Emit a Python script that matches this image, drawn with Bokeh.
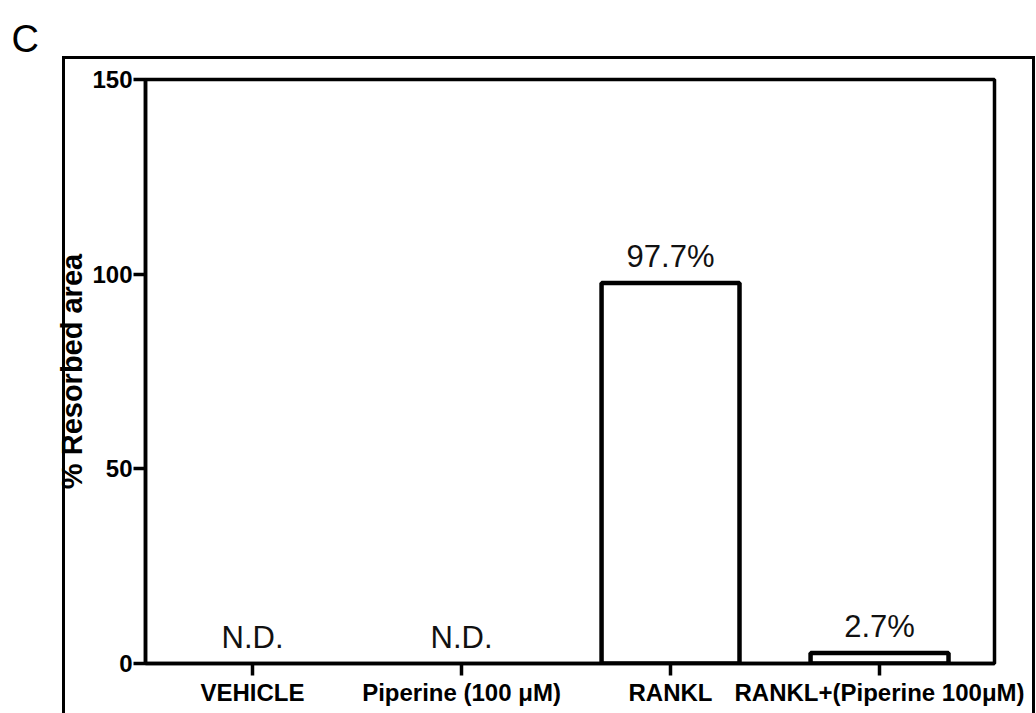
from bokeh.plotting import figure
from bokeh.models import Range1d, FixedTicker, LabelSet, ColumnDataSource
from bokeh.core.properties import value
from bokeh.embed import file_html
from bokeh.resources import INLINE

# ---- data ----
categories = ["VEHICLE", "Piperine (100 \u03bcM)", "RANKL", "RANKL+(Piperine 100\u03bcM)"]
resorbed = [0.0, 0.0, 97.7, 2.7]
bar_labels = ["N.D.", "N.D.", "97.7%", "2.7%"]
y_ticks = [0, 50, 100, 150]
y_label = "% Resorbed area"
panel_letter = "C"

idx = list(range(len(categories)))
bar_x = [i for i, v in zip(idx, resorbed) if v > 0]
bar_top = [v for v in resorbed if v > 0]

p = figure(width=1036, height=713, output_backend="svg", toolbar_location=None,
           x_range=Range1d(-0.512, 3.55), y_range=Range1d(0, 150),
           min_border_left=145, min_border_right=42, min_border_top=78, min_border_bottom=50,
           title=panel_letter)
p.grid.visible = False
p.background_fill_color = None
p.border_fill_color = None
p.outline_line_color = "black"
p.outline_line_width = 3.5

# outer panel frame (decoration) drawn as the host element's background
line = "linear-gradient(#000,#000)"
p.styles = {"background": (
    f"{line} 62px 56px / 3px 800px no-repeat, "
    f"{line} 62px 56px / 973px 3px no-repeat, "
    f"{line} 1032px 56px / 3px 800px no-repeat, #fff")}

src_bars = ColumnDataSource(dict(x=bar_x, top=bar_top))
p.vbar(x="x", top="top", width=0.66, bottom=0, source=src_bars,
       fill_color="white", line_color="black", line_width=4.5)

src_txt = ColumnDataSource(dict(x=idx, y=resorbed, t=bar_labels))
p.add_layout(LabelSet(x="x", y="y", text="t", source=src_txt, text_font=value("Liberation Sans"),
                      text_font_size="31px", text_align="center", text_baseline="alphabetic",
                      y_offset=16, text_color="#111111"))

for ax in (p.xaxis[0], p.yaxis[0]):
    ax.axis_line_width = 3.5
    ax.axis_line_color = "black"
    ax.major_tick_line_width = 3.5
    ax.major_tick_in = 0
    ax.major_tick_out = 12
    ax.minor_tick_in = 0
    ax.minor_tick_out = 0
    ax.major_label_text_font = "Liberation Sans"
    ax.major_label_text_font_style = "bold"
    ax.major_label_text_font_size = "24px"
    ax.major_label_text_color = "black"

p.xaxis.major_label_standoff = 3
p.yaxis.major_label_standoff = 1
p.xaxis.axis_label = None
p.xaxis.ticker = FixedTicker(ticks=idx)
p.xaxis.major_label_overrides = {i: c for i, c in zip(idx, categories)}
p.yaxis.ticker = FixedTicker(ticks=y_ticks)
p.yaxis.axis_label = y_label
p.yaxis.axis_label_text_font = "Liberation Sans"
p.yaxis.axis_label_text_font_style = "bold"
p.yaxis.axis_label_text_font_size = "29px"
p.yaxis.axis_label_text_color = "black"
p.yaxis.axis_label_standoff = 1

p.title.text_font = "Liberation Sans"
p.title.text_font_size = "38px"
p.title.text_font_style = "normal"
p.title.text_color = "black"
p.title.align = "left"
p.title.vertical_align = "top"
p.title.offset = -134
p.title.standoff = 35

open("out.html", "w").write(file_html(p, INLINE))
